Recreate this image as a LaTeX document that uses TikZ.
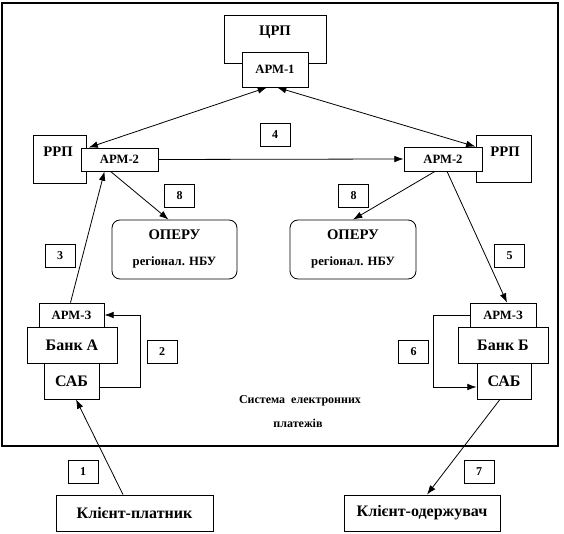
\documentclass[tikz,border=0pt]{standalone}
\usepackage{fontspec}
\setmainfont{Liberation Serif}
\usetikzlibrary{calc,arrows.meta}
\newcommand\fbig{\bfseries\fontsize{11}{13}\selectfont}
\newcommand\fmid{\bfseries\fontsize{12}{14}\selectfont}
\newcommand\farm{\bfseries\fontsize{9.5}{11}\selectfont}
\newcommand\fsmall{\bfseries\fontsize{9}{10}\selectfont}
\begin{document}
\begin{tikzpicture}[x=0.75pt,y=-0.75pt,
  bx/.style 2 args={draw, fill=white, line width=0.6pt, minimum width=#1*0.75pt, minimum height=#2*0.75pt, inner sep=0pt, font=\fmid},
  rbx/.style 2 args={bx={#1}{#2}, rounded corners=6pt},
  num/.style={bx={30}{23}, font=\fsmall},
  txt/.style={inner sep=0pt},
  arr/.style={line width=0.6pt, -{Latex[length=7pt,width=5pt]}},
  darr/.style={line width=0.6pt, {Latex[length=7pt,width=5pt]}-{Latex[length=7pt,width=5pt]}}]
\useasboundingbox (0,0) rectangle (564,534);
\fill[white] (0,0) rectangle (564,534);
% outer frame
\draw[line width=0.8pt] (2,3) rectangle (558,446);
% central
\node[bx={102}{48}] (crp) at (275,39) {};
\node[txt, font=\fbig] (crpt) at (275,32) {ЦРП};
\node[bx={66}{35}, font=\farm] (arm1) at (275,69.5) {АРМ-1};
\node[num] (n4) at (275,135) {4};
% left regional
\node[bx={53}{48}] (lrrp) at (59.5,159) {};
\node[txt, font=\fbig] (lrrpt) at (58,152) {РРП};
\node[bx={77}{23}, font=\farm] (larm2) at (119.5,159.5) {АРМ-2};
% right regional
\node[bx={55}{47}] (rrrp) at (503.5,158.5) {};
\node[txt, font=\fbig] (rrrpt) at (505,152) {РРП};
\node[bx={78}{24}, font=\farm] (rarm2) at (443,159) {АРМ-2};
% OPERU
\node[num] (n8l) at (179.5,195.5) {8};
\node[num] (n8r) at (353.5,195.5) {8};
\node[rbx={125}{59}] (lop) at (174.5,249.5) {};
\node[txt, font=\fbig] (lop1) at (174.5,235) {ОПЕРУ};
\node[txt, font=\farm] (lop2) at (174.5,262) {регіонал. НБУ};
\node[rbx={126}{59}] (rop) at (353,249.5) {};
\node[txt, font=\fbig] (rop1) at (353,235) {ОПЕРУ};
\node[txt, font=\farm] (rop2) at (353,262) {регіонал. НБУ};
\node[num] (n3) at (60,255.5) {3};
\node[num] (n5) at (509.5,255.5) {5};
% bank A
\node[bx={65}{24}, font=\farm] (larm3) at (71.5,315) {АРМ-З};
\node[bx={90}{36}] (banka) at (72,345) {Банк А};
\node[bx={55}{36}] (saba) at (71.5,381) {САБ};
\node[num] (n2) at (162,351.5) {2};
% bank B
\node[bx={66}{24}, font=\farm] (rarm3) at (503,315) {АРМ-З};
\node[bx={90}{36}] (bankb) at (503,345) {Банк Б};
\node[bx={54}{36}] (sabb) at (504,381) {САБ};
\node[num] (n6) at (413.5,351.5) {6};
% system label
\node[txt, font=\fsmall] (sys1) at (300,401) {Система\ \ електронних};
\node[txt, font=\fsmall] (sys2) at (298,423) {платежів};
% clients
\node[num] (n1) at (83,471.5) {1};
\node[num] (n7) at (479,471.5) {7};
\node[bx={157}{36}] (kp) at (134.5,513) {Клієнт-платник};
\node[bx={156}{36}] (ko) at (422,513) {Клієнт-одержувач};
% connectors
\draw[darr] ($(arm1.south)+(-8,0)$) -- ($(larm2.north west)+(8,0)$);
\draw[darr] ($(arm1.south)+(2,0)$) -- ($(rarm2.north east)+(-7,0)$);
\draw[arr] (larm2.east) -- (rarm2.west);
\draw[arr] ($(larm2.south)+(-9,0)$) -- ($(lop.north)+(-6,0)$);
\draw[arr] ($(rarm2.south)+(-8,0)$) -- (rop.north);
\draw[arr] ($(larm3.north)+(-1,0)$) -- ($(larm2.south)+(-15,0)$);
\draw[arr] ($(rarm2.south)+(4,0)$) -- ($(rarm3.north)+(4,0)$);
\draw[arr] ($(saba.east)+(0,6)$) -- ++(41,0) |- (larm3.east);
\draw[arr] (rarm3.west) -- ++(-36,0) |- ($(sabb.west)+(0,6)$);
\draw[arr] ($(kp.north)+(-11.5,0)$) -- ($(saba.south)+(4.5,0)$);
\draw[arr] ($(sabb.south)+(-4,0)$) -- ($(ko.north)+(5,0)$);
\end{tikzpicture}
\end{document}
